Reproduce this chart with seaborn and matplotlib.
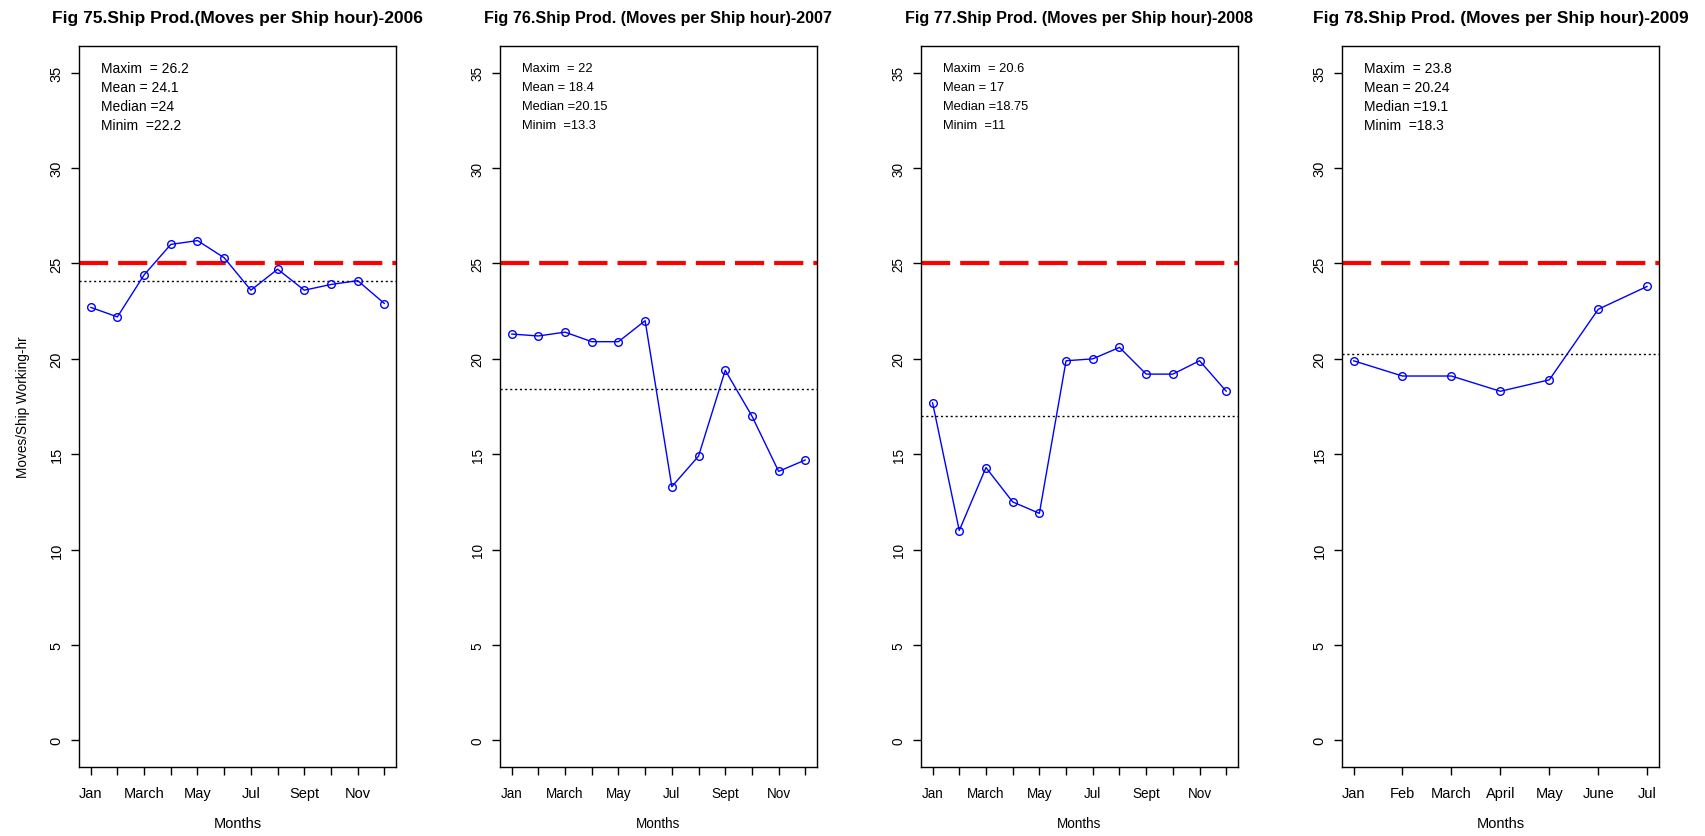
import matplotlib
matplotlib.use("Agg")
import matplotlib.pyplot as plt
import seaborn as sns

# data
months_full = ["Jan", "Feb", "March", "April", "May", "June",
               "Jul", "Aug", "Sept", "Oct", "Nov", "Dec"]
months_2009 = ["Jan", "Feb", "March", "April", "May", "June", "Jul"]

prod_2006 = [22.7, 22.2, 24.4, 26.0, 26.2, 25.3, 23.6, 24.7, 23.6, 23.9, 24.1, 22.9]
prod_2007 = [21.3, 21.2, 21.4, 20.9, 20.9, 22.0, 13.3, 14.9, 19.4, 17.0, 14.1, 14.7]
prod_2008 = [17.7, 11.0, 14.3, 12.5, 11.9, 19.9, 20.0, 20.6, 19.2, 19.2, 19.9, 18.3]
prod_2009 = [19.9, 19.1, 19.1, 18.3, 18.9, 22.6, 23.8]

titles = ["Fig 75.Ship Prod.(Moves per Ship hour)-2006",
          "Fig 76.Ship Prod. (Moves per Ship hour)-2007",
          "Fig 77.Ship Prod. (Moves per Ship hour)-2008",
          "Fig 78.Ship Prod. (Moves per Ship hour)-2009"]

# stats as printed in the boxes (the mean value is also the dotted line)
maxim = ["26.2", "22", "20.6", "23.8"]
mean = ["24.1", "18.4", "17", "20.24"]
median = ["24", "20.15", "18.75", "19.1"]
minim = ["22.2", "13.3", "11", "18.3"]

target = 25
y_ticks = [0, 5, 10, 15, 20, 25, 30, 35]

series = [prod_2006, prod_2007, prod_2008, prod_2009]
labels = [months_full, months_full, months_full, months_2009]

sns.set_style("ticks")
plt.rcParams['font.family'] = ['Liberation Sans', 'DejaVu Sans']
plt.rcParams['text.color'] = 'black'
plt.rcParams['axes.labelcolor'] = 'black'
plt.rcParams['xtick.color'] = 'black'
plt.rcParams['ytick.color'] = 'black'

fig, axes = plt.subplots(1, 4, figsize=(17.05, 8.37), dpi=100)
plt.subplots_adjust(left=0.0463, right=0.973, bottom=0.0824, top=0.9438, wspace=0.327)

# panels 2 and 3 are printed a bit narrower in the source
scale = [1.0, 0.93, 0.93, 1.0]

for i, ax in enumerate(axes):
    vals = series[i]
    mon = labels[i]
    x = list(range(1, len(vals) + 1))
    s = scale[i]

    ax.axhline(target, color='red', lw=3, dashes=(7, 2.4), zorder=1)
    ax.axhline(float(mean[i]), color='black', lw=1, linestyle=(0, (1.5, 2)), zorder=1)

    sns.lineplot(x=x, y=vals, ax=ax, color='blue', marker='o', markersize=5.5,
                 markerfacecolor='none', markeredgecolor='blue', markeredgewidth=1,
                 linewidth=1, zorder=3)

    n = len(vals)
    ext = (n - 1) * 0.04
    ax.set_xlim(1 - ext, n + ext)
    ax.set_ylim(-1.4, 36.4)

    ax.set_xticks(x)
    if n == 12:
        ax.set_xticklabels([m if k % 2 == 0 else "" for k, m in enumerate(mon)])
    else:
        ax.set_xticklabels(mon)
    ax.set_yticks(y_ticks)
    ax.set_yticklabels([str(v) for v in y_ticks], rotation=90, va='center')

    ax.tick_params(axis='x', length=6, width=1, labelsize=10.5 * s, pad=8)
    ax.tick_params(axis='y', length=6, width=1, labelsize=10.5 * s, pad=5)
    for sp in ax.spines.values():
        sp.set_visible(True)
        sp.set_linewidth(1.0)
        sp.set_color('black')

    ax.set_title(titles[i], fontsize=12.5 * s, fontweight='bold', pad=17)
    ax.set_xlabel("Months", fontsize=10.5 * s, labelpad=11)
    if i == 0:
        ax.set_ylabel("Moves/Ship Working-hr", fontsize=9.8, labelpad=14)
    else:
        ax.set_ylabel("")

    lines = ["Maxim  = " + maxim[i], "Mean = " + mean[i],
             "Median =" + median[i], "Minim  =" + minim[i]]
    for k, txt in enumerate(lines):
        ax.text(0.07, 0.97 - k * 0.0265, txt, transform=ax.transAxes,
                fontsize=10 * s, va='center', ha='left')

plt.savefig("out.png", dpi=100)
